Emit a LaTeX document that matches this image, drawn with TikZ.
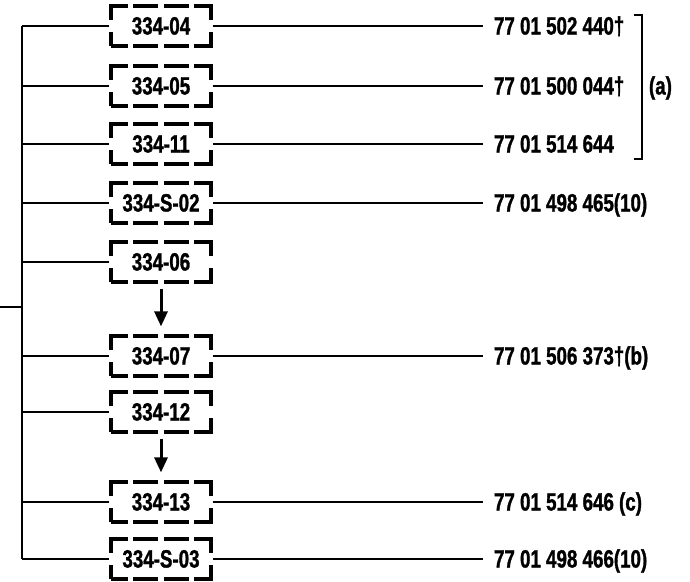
\documentclass[tikz,border=0pt]{standalone}
\usepackage{fontspec}
\newfontfamily\condfont{Liberation Sans}[FakeStretch=0.75,FakeBold=1.2]
\usetikzlibrary{arrows.meta,positioning}

\begin{document}
\begin{tikzpicture}[
  x=1pt, y=-1pt,
  font=\condfont\bfseries\fontsize{25}{28}\selectfont,
  pbox/.style={rectangle,draw,line width=3.2pt,minimum width=100pt,minimum height=40pt,
               inner sep=2pt,text height=17pt,text depth=0pt,
               dash pattern=on 17pt off 5pt on 25pt off 6pt on 25pt off 5pt on 31pt off 12pt
                            on 31pt off 5pt on 25pt off 6pt on 25pt off 5pt on 31pt off 12pt on 14pt},
  num/.style={anchor=west,inner sep=1pt,outer xsep=10pt,text height=17pt,text depth=0pt},
  trunk/.style={line width=2.4pt},
  feed/.style={line width=2pt},
  arr/.style={line width=1.7pt},
  brk/.style={line width=2.8pt},
  seq/.style={-{Triangle[length=15pt,width=13pt]},line width=3pt,shorten <=5pt,shorten >=8pt}
]
  \useasboundingbox (0,0) rectangle (690,581);

  % dashed part boxes
  \foreach \n/\t/\y in {04/04/26, 05/05/86, 11/11/144, S02/S-02/203, 06/06/262,
                        07/07/356, 12/12/412, 13/13/502, S03/S-03/559}
    \node[pbox] (b\n) at (161,\y) {334-\t};

  % order numbers
  \node[num] (l04)  at (483,26)  {77 01 502 440†};
  \node[num] (l05)  at (483,86)  {77 01 500 044†};
  \node[num] (l11)  at (483,144) {77 01 514 644};
  \node[num] (lS02) at (483,203) {77 01 498 465(10)};
  \node[num] (l07)  at (483,356) {77 01 506 373†(b)};
  \node[num] (l13)  at (483,502) {77 01 514 646 (c)};
  \node[num] (lS03) at (483,559) {77 01 498 466(10)};

  % trunk on the left
  \coordinate (trunktop) at (22,26);
  \coordinate (trunkbot) at (22,559);
  \coordinate (feedin)   at (0,307);
  \draw[trunk] (trunktop) -- (trunkbot);
  \draw[trunk] (feedin) -- (feedin -| trunktop);
  \foreach \n in {04,05,11,S02,06,07,12,13,S03}
    \draw[feed] (b\n.west -| trunktop) -- (b\n.west);

  \foreach \n in {04,05,11,S02,07,13,S03}
    \draw[arr] (b\n.east) -- (l\n.west);

  \draw[seq] (b06) -- (b07);
  \draw[seq] (b12) -- (b13);

  % bracket (a)
  \coordinate (brtop) at (642,15);
  \coordinate (brbot) at (642,159);
  \coordinate (brmid) at (642,88);
  \node[anchor=west,inner sep=1pt,outer xsep=6pt] (la) at (642,88) {(a)};
  \draw[brk] ([xshift=-8pt]brtop) -- (brtop) -- (brbot) -- ([xshift=-8pt]brbot);
  \draw[brk] (brmid) -- (la.west);
\end{tikzpicture}
\end{document}
